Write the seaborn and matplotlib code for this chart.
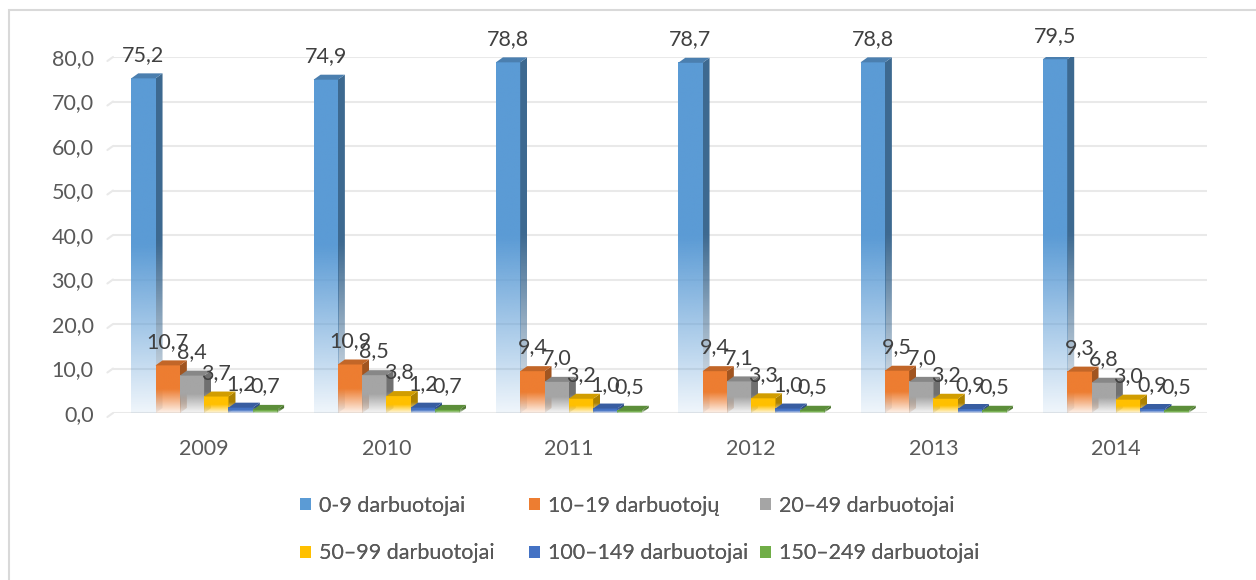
import numpy as np
import pandas as pd
import matplotlib
matplotlib.use("Agg")
import matplotlib.pyplot as plt
import seaborn as sns
from matplotlib.patches import Polygon, Rectangle, Patch
from matplotlib.ticker import FuncFormatter
from matplotlib.colors import to_rgb

# ---- data ----
years = ["2009", "2010", "2011", "2012", "2013", "2014"]
groups = ["0-9 darbuotojai", "10–19 darbuotojų", "20–49 darbuotojai",
          "50–99 darbuotojai", "100–149 darbuotojai", "150–249 darbuotojai"]
g_0_9 = [75.2, 74.9, 78.8, 78.7, 78.8, 79.5]
g_10_19 = [10.7, 10.9, 9.4, 9.4, 9.5, 9.3]
g_20_49 = [8.4, 8.5, 7.0, 7.1, 7.0, 6.8]
g_50_99 = [3.7, 3.8, 3.2, 3.3, 3.2, 3.0]
g_100_149 = [1.2, 1.2, 1.0, 1.0, 0.9, 0.9]
g_150_249 = [0.7, 0.7, 0.5, 0.5, 0.5, 0.5]
colors = ["#5B9BD5", "#ED7D31", "#A5A5A5", "#FFC000", "#4472C4", "#70AD47"]

series = [g_0_9, g_10_19, g_20_49, g_50_99, g_100_149, g_150_249]
df = pd.DataFrame([
    {"year": y, "group": g, "value": v}
    for g, vals in zip(groups, series) for y, v in zip(years, vals)
])

# ---- style ----
sns.set_style("white")
plt.rcParams["font.family"] = ["Lato", "DejaVu Sans"]
text_col = "#595959"
fs = 15.5

fig = plt.figure(figsize=(12.56, 5.8), dpi=100)
ax = fig.add_axes([113 / 1256, 1 - 413 / 580, 1094 / 1256, 356 / 580])

sns.barplot(data=df, x="year", y="value", hue="group", palette=colors,
            hue_order=groups, order=years, width=0.8, legend=False,
            errorbar=None, ax=ax, saturation=1)

ax.set_xlim(-0.5, len(years) - 0.5)
ax.set_ylim(0, 80)
yticks = np.arange(0, 81, 10)
ax.set_yticks(yticks)
ax.yaxis.set_major_formatter(FuncFormatter(lambda v, p: f"{v:.1f}".replace(".", ",")))
ax.yaxis.grid(True, color="#e9e9e9", lw=1.5, zorder=0)
ax.set_axisbelow(True)
sns.despine(ax=ax, left=True, bottom=True)
ax.set_xlabel("")
ax.set_ylabel("")
ax.tick_params(axis="y", length=0, pad=14, labelsize=fs, labelcolor=text_col)
ax.tick_params(axis="x", length=0, pad=19, labelsize=fs, labelcolor=text_col)

# 3D depth offset in data units (7 px right, 5 px up)
inv = ax.transData.inverted()
p0 = inv.transform(ax.transData.transform((0, 0)))
p1 = inv.transform(ax.transData.transform((0, 0)) + np.array([7, 5]))
dx, dy = p1 - p0

# short slanted side-wall stubs at the left end of each gridline
for yt in yticks:
    ax.plot([-0.5, -0.5 - dx * 0.8], [yt, yt - dy * 0.8], color="#e9e9e9", lw=1.5,
            clip_on=False, zorder=0)


def grad_img(color, n=100, lo=0.1, knee=0.5):
    r, g, b = to_rgb(color)
    t = np.linspace(0, 1, n)  # 0 bottom -> 1 top
    a = np.clip(lo + (1 - lo) * t / knee, 0, 1)
    img = np.zeros((n, 1, 4))
    img[:, 0, 0], img[:, 0, 1], img[:, 0, 2] = r, g, b
    img[:, 0, 3] = a
    return img[::-1]


def darker(color, f):
    return tuple(c * f for c in to_rgb(color))


for hi, cont in enumerate(ax.containers):
    col = colors[hi]
    for bar in cont:
        bar.set_visible(False)
        x0, w, h = bar.get_x(), bar.get_width(), bar.get_height()
        x1 = x0 + w
        z = 3 + hi * 0.1
        # front face
        ax.imshow(grad_img(col), extent=(x0, x1, 0, h), aspect="auto",
                  interpolation="bilinear", zorder=z)
        # side face
        side = Polygon([(x1, 0), (x1 + dx, dy), (x1 + dx, h + dy), (x1, h)],
                       closed=True, transform=ax.transData)
        im = ax.imshow(grad_img(darker(col, 0.68)), extent=(x1, x1 + dx, 0, h + dy),
                       aspect="auto", interpolation="bilinear", zorder=z + 0.01)
        im.set_clip_path(side)
        # top face
        ax.add_patch(Polygon([(x0, h), (x0 + dx, h + dy), (x1 + dx, h + dy), (x1, h)],
                             closed=True, facecolor=darker(col, 0.82), edgecolor="none",
                             zorder=z + 0.02))
        ax.annotate(f"{h:.1f}".replace(".", ","), (x0 + w / 2, h),
                    xytext=(0, 17), textcoords="offset points", ha="center", va="center",
                    fontsize=fs, color="#404040", zorder=10, annotation_clip=False)

ax.set_xlim(-0.5, len(years) - 0.5)
ax.set_ylim(0, 80)

# legend: three equal-width columns, two rows
handles = [Patch(facecolor=c, edgecolor="none") for c in colors]
col_x = [300, 529, 760]
for ci, xpx in enumerate(col_x):
    idx = [ci, ci + 3]
    leg = fig.legend([handles[i] for i in idx], [groups[i] for i in idx],
                     loc="center left", bbox_to_anchor=(xpx / 1256, 1 - 529.5 / 580),
                     frameon=False, fontsize=fs, labelcolor=text_col,
                     handlelength=0.5, handleheight=0.5, handletextpad=0.4,
                     labelspacing=1.3, borderpad=0, borderaxespad=0)
    fig.add_artist(leg)

# light chart border
fig.add_artist(Rectangle((9 / 1256, -0.1), 1.2, 1.1 - 10 / 580, transform=fig.transFigure,
                         fill=False, edgecolor="#d9d9d9", lw=1.5))

fig.savefig("out.png", dpi=100)
